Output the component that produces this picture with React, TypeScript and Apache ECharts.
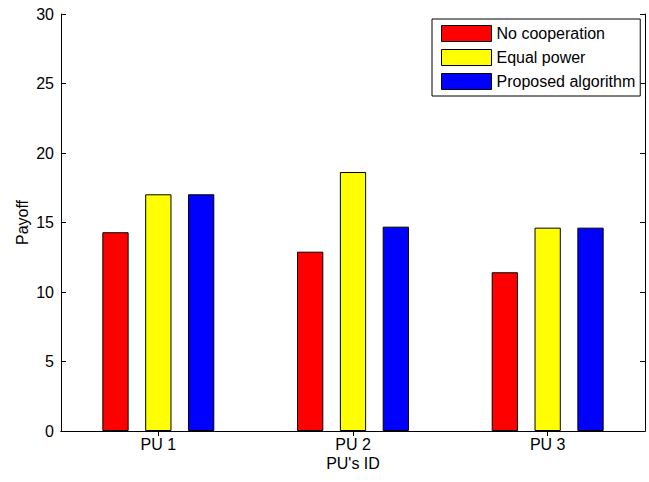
import React, { useEffect, useRef } from "react";
import * as echarts from "echarts";

const categories = ["PU 1", "PU 2", "PU 3"];
const seriesNames = ["No cooperation", "Equal power", "Proposed algorithm"];
const noCooperation = [14.3, 12.9, 11.42];
const equalPower = [17.03, 18.63, 14.63];
const proposed = [17.03, 14.7, 14.63];
const colors = ["#ff0000", "#ffff00", "#0000ff"];

const FONT = "Liberation Sans, Arial, Helvetica, sans-serif";
const FS = 16;

export default function App() {
  const ref = useRef<HTMLDivElement>(null);
  useEffect(() => {
    if (!ref.current) return;
    const chart = echarts.init(ref.current, null, { renderer: "svg" });
    const values = [noCooperation, equalPower, proposed];
    const axisLine = { show: true, lineStyle: { color: "#000", width: 1 } };
    chart.setOption({
      animation: false,
      backgroundColor: "#fff",
      textStyle: { fontFamily: FONT },
      grid: { left: 61, top: 14, right: 4, bottom: 51, containLabel: false },
      legend: {
        orient: "vertical",
        left: 432,
        top: 19,
        padding: [6, 5, 6, 9],
        itemGap: 7,
        itemWidth: 50,
        itemHeight: 16,
        backgroundColor: "#fff",
        borderColor: "#000",
        borderWidth: 1,
        borderRadius: 0,
        textStyle: { fontFamily: FONT, fontSize: FS, color: "#000" },
        data: seriesNames.map((n) => ({ name: n, icon: "rect" })),
        itemStyle: { borderColor: "#000", borderWidth: 1 },
      },
      xAxis: [
        {
          type: "category",
          data: categories,
          position: "bottom",
          axisLine,
          axisTick: { show: true, inside: true, alignWithLabel: true, length: 5, lineStyle: { color: "#000" } },
          axisLabel: { color: "#000", fontSize: FS, fontFamily: FONT, margin: 5 },
          name: "PU's ID",
          nameLocation: "middle",
          nameGap: 24,
          nameMoveOverlap: false,
          nameTextStyle: { color: "#000", fontSize: FS, fontFamily: FONT },
          splitLine: { show: false },
        },
        {
          type: "category",
          data: categories,
          position: "top",
          axisLine,
          axisTick: { show: true, inside: true, alignWithLabel: true, length: 5, lineStyle: { color: "#000" } },
          axisLabel: { show: false },
          splitLine: { show: false },
        },
      ],
      yAxis: [
        {
          type: "value",
          min: 0,
          max: 30,
          interval: 5,
          position: "left",
          axisLine,
          axisTick: { show: true, inside: true, length: 5, lineStyle: { color: "#000" } },
          axisLabel: { color: "#000", fontSize: FS, fontFamily: FONT, margin: 7 },
          splitLine: { show: false },
          name: "Payoff",
          nameLocation: "middle",
          nameGap: 31,
          nameMoveOverlap: false,
          nameTextStyle: { color: "#000", fontSize: FS, fontFamily: FONT },
        },
        {
          type: "value",
          min: 0,
          max: 30,
          interval: 5,
          position: "right",
          axisLine,
          axisTick: { show: true, inside: true, length: 5, lineStyle: { color: "#000" } },
          axisLabel: { show: false },
          splitLine: { show: false },
        },
      ],
      series: seriesNames.map((name, i) => ({
        name,
        type: "bar",
        xAxisIndex: 0,
        yAxisIndex: 0,
        data: values[i],
        barWidth: "13.5%",
        barGap: "63%",
        itemStyle: { color: colors[i], borderColor: "#000", borderWidth: 1 },
      })),
    });
    return () => chart.dispose();
  }, []);
  return <div ref={ref} style={{ width: 649, height: 482, position: "absolute", left: 0, top: 0 }} />;
}
